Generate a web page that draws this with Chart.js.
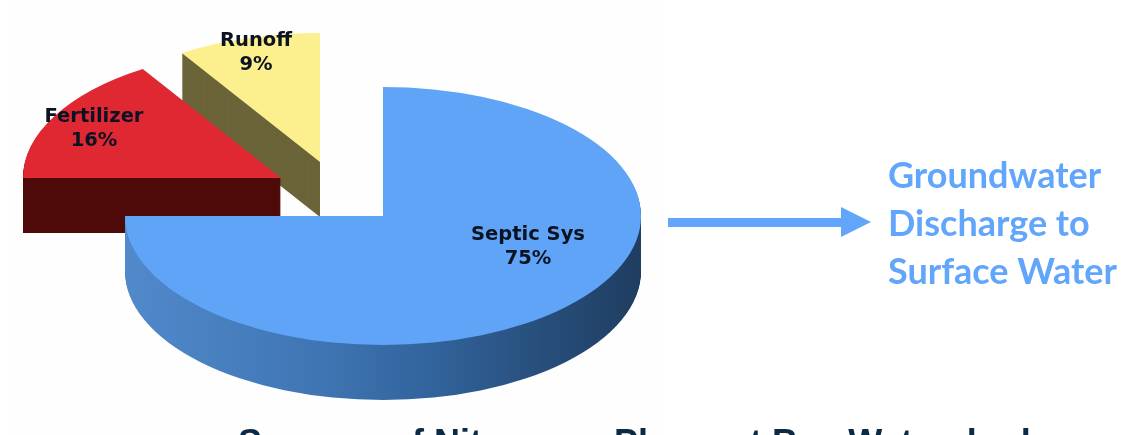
<!DOCTYPE html>
<html>
<head>
<meta charset="utf-8">
<title>Sources of Nitrogen - Pleasant Bay Watershed</title>
<script src="https://cdn.jsdelivr.net/npm/chart.js@4.4.0/dist/chart.umd.min.js"></script>
<style>
  html,body{margin:0;padding:0;background:#fff;overflow:hidden}
  canvas{display:block}
</style>
</head>
<body>
<canvas id="pie" width="1121" height="435"></canvas>
<script>
const categories = ['Septic Sys', 'Fertilizer', 'Runoff'];
const shares = [75, 16, 9];
const sideText = ['Groundwater', 'Discharge to', 'Surface Water'];
const caption = 'Sources of Nitrogen - Pleasant Bay Watershed';

// look of the tilted pie, same order as categories
const topColors = ['#5fa4f6', '#df2832', '#fbef8e'];
const wallColors = ['', '#4e0a08', '#6a6438'];
const centres = [[383, 216], [281, 178], [320, 162]];
const labelSpots = [[528, 235], [94, 117], [256, 41]];
const squash = 0.5, depth = 55;

const tiltedPie = {
  id: 'tiltedPie',
  beforeDatasetsDraw(chart) {
    const ctx = chart.ctx;
    const arcs = chart.getDatasetMeta(0).data;

    ctx.fillStyle = '#fdfefd';
    ctx.fillRect(8, 5, 657, 430);

    const drawArc = (i, dy, fill) => {
      const arc = arcs[i];
      const saved = arc.options;
      const opts = Object.create(saved);
      opts.backgroundColor = fill;
      arc.options = opts;
      ctx.save();
      ctx.translate(centres[i][0], centres[i][1] + dy);
      ctx.scale(1, squash);
      ctx.translate(-arc.x, -arc.y);
      arc.draw(ctx);
      ctx.restore();
      arc.options = saved;
    };

    // back slices first, septic last so it sits on top
    [2, 1, 0].forEach(i => {
      let wall = wallColors[i];
      if (i === 0) {
        const arc = arcs[0];
        wall = ctx.createLinearGradient(arc.x - arc.outerRadius, 0, arc.x + arc.outerRadius, 0);
        wall.addColorStop(0, '#5189cb');
        wall.addColorStop(0.38, '#3f75b3');
        wall.addColorStop(0.6, '#31639b');
        wall.addColorStop(0.75, '#2a5484');
        wall.addColorStop(1, '#1f3d60');
      }
      for (let d = depth; d > 0; d--) drawArc(i, d, wall);
      drawArc(i, 0, topColors[i]);
    });

    // slice labels
    ctx.fillStyle = '#0b1322';
    ctx.font = 'bold 19.5px "DejaVu Sans"';
    ctx.textAlign = 'center';
    ctx.textBaseline = 'middle';
    categories.forEach((c, i) => {
      ctx.fillText(c, labelSpots[i][0], labelSpots[i][1]);
      ctx.fillText(shares[i] + '%', labelSpots[i][0], labelSpots[i][1] + 24);
    });

    // arrow
    ctx.fillStyle = '#62a6fb';
    ctx.fillRect(668, 218, 174, 9);
    ctx.beginPath();
    ctx.moveTo(841, 207);
    ctx.lineTo(871, 222);
    ctx.lineTo(841, 237);
    ctx.closePath();
    ctx.fill();

    // right side text
    ctx.textAlign = 'left';
    ctx.textBaseline = 'alphabetic';
    ctx.font = 'bold 36px Lato';
    sideText.forEach((t, i) => ctx.fillText(t, 888, 188 + i * 48));

    // caption, runs off the bottom of the frame
    ctx.fillStyle = '#0b2a45';
    ctx.font = 'bold 36px "Liberation Sans"';
    ctx.fillText(caption, 238, 455);

    return false;
  }
};

new Chart(document.getElementById('pie').getContext('2d'), {
  type: 'pie',
  data: {
    labels: categories,
    datasets: [{ data: shares, backgroundColor: topColors, borderWidth: 0 }]
  },
  options: {
    responsive: false,
    animation: false,
    radius: 258,
    plugins: { legend: { display: false }, tooltip: { enabled: false } }
  },
  plugins: [tiltedPie]
});
</script>
</body>
</html>
